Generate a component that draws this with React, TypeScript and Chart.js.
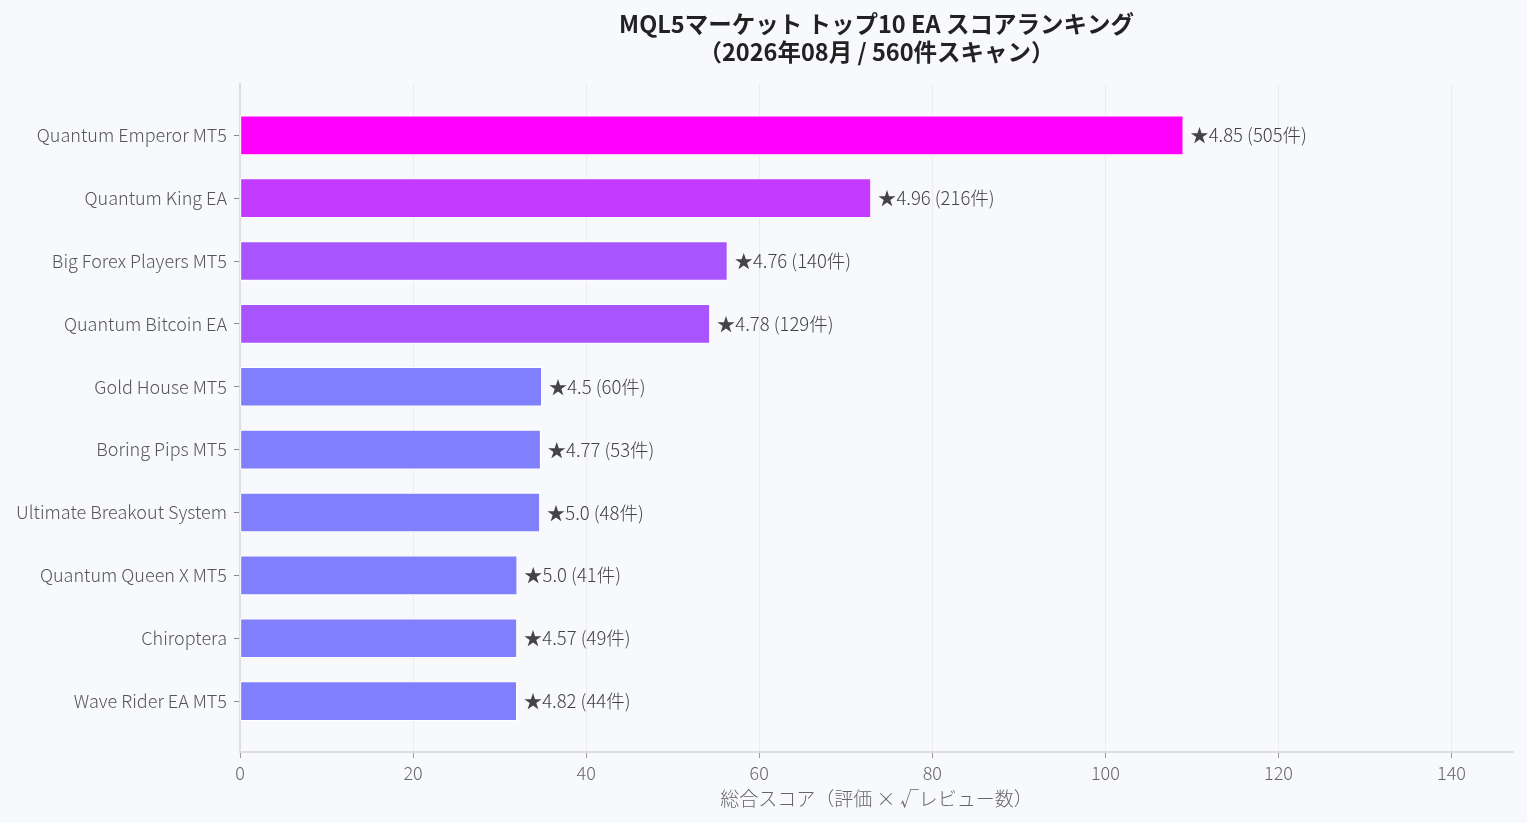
import React, { useEffect, useRef } from 'react';
import { Chart, registerables } from 'chart.js';

Chart.register(...registerables);

const eaNames = [
  'Quantum Emperor MT5',
  'Quantum King EA',
  'Big Forex Players MT5',
  'Quantum Bitcoin EA',
  'Gold House MT5',
  'Boring Pips MT5',
  'Ultimate Breakout System',
  'Quantum Queen X MT5',
  'Chiroptera',
  'Wave Rider EA MT5',
];
const scores = [108.99, 72.9, 56.32, 54.29, 34.86, 34.73, 34.64, 32.02, 31.99, 31.97];
const ratings = ['4.85', '4.96', '4.76', '4.78', '4.5', '4.77', '5.0', '5.0', '4.57', '4.82'];
const reviewCounts = [505, 216, 140, 129, 60, 53, 48, 41, 49, 44];
const barColors = [
  '#ff00ff', '#c33bff', '#a855ff', '#a855ff', '#8080ff',
  '#8080ff', '#8080ff', '#8080ff', '#8080ff', '#8080ff',
];

const FONT = '"Noto Sans CJK JP", "Noto Sans", sans-serif';

const barLabels = {
  id: 'barLabels',
  afterDatasetsDraw(chart: Chart) {
    const { ctx } = chart;
    const meta = chart.getDatasetMeta(0);
    ctx.save();
    ctx.font = `300 18.5px ${FONT}`;
    ctx.fillStyle = '#444';
    ctx.textBaseline = 'middle';
    ctx.textAlign = 'left';
    meta.data.forEach((bar: any, i: number) => {
      ctx.fillText(`★${ratings[i]} (${reviewCounts[i]}件)`, bar.x + 7, bar.y);
    });
    ctx.restore();
  },
};

export default function App() {
  const canvasRef = useRef<HTMLCanvasElement | null>(null);
  const chartRef = useRef<Chart | null>(null);

  useEffect(() => {
    document.body.style.margin = '0';
    document.body.style.background = '#f8f9fd';
    const ctx = canvasRef.current?.getContext('2d');
    if (!ctx) return;
    if (chartRef.current) chartRef.current.destroy();

    chartRef.current = new Chart(ctx, {
      type: 'bar',
      data: {
        datasets: [
          {
            data: scores.map((s, i) => ({ x: s, y: i })),
            backgroundColor: barColors,
            borderColor: '#ffffff',
            borderWidth: 1,
            borderSkipped: false,
            barThickness: 39,
          },
        ],
      },
      plugins: [barLabels],
      options: {
        indexAxis: 'y',
        animation: false,
        responsive: false,
        maintainAspectRatio: false,
        layout: { padding: { left: 0, right: 14, top: 0, bottom: 0 } },
        scales: {
          x: {
            type: 'linear',
            min: 0,
            max: 147.1,
            ticks: {
              stepSize: 20,
              includeBounds: false,
              color: '#666',
              font: { family: FONT, size: 18, weight: '300' },
              padding: 4,
            },
            grid: {
              color: '#ececef',
              lineWidth: 1,
              tickLength: 6,
              tickColor: '#999',
            },
            border: { color: '#dedede', width: 2 },
            title: {
              display: true,
              text: '総合スコア（評価 × √レビュー数）',
              color: '#666',
              font: { family: FONT, size: 19, weight: '300' },
              padding: { top: 0, bottom: 13 },
            },
            afterFit(scale: any) {
              scale.height = 71;
            },
          },
          y: {
            type: 'linear',
            reverse: true,
            offset: false,
            min: -0.81,
            max: 9.81,
            ticks: {
              stepSize: 1,
              includeBounds: false,
              color: '#555',
              font: { family: FONT, size: 18, weight: '300' },
              padding: 7,
              callback: (v: any) => (Number.isInteger(v) ? eaNames[v] ?? '' : ''),
            },
            grid: {
              offset: false,
              drawOnChartArea: false,
              tickLength: 6,
              tickColor: '#888',
            },
            border: { color: '#dedede', width: 2 },
            afterFit(scale: any) {
              scale.width = 240;
            },
          },
        },
        plugins: {
          legend: { display: false },
          tooltip: { enabled: false },
          title: {
            display: true,
            fullSize: false,
            text: ['MQL5マーケット トップ10 EA スコアランキング', '（2026年08月 / 560件スキャン）'],
            color: '#222',
            font: { family: FONT, size: 23.5, weight: 'bold', lineHeight: 1.2 },
            padding: { top: 10, bottom: 18 },
          },
        },
      },
    });

    return () => {
      if (chartRef.current) {
        chartRef.current.destroy();
        chartRef.current = null;
      }
    };
  }, []);

  return (
    <div style={{ width: 1527, height: 823, background: '#f8f9fd' }}>
      <canvas ref={canvasRef} width={1527} height={823}></canvas>
    </div>
  );
}
